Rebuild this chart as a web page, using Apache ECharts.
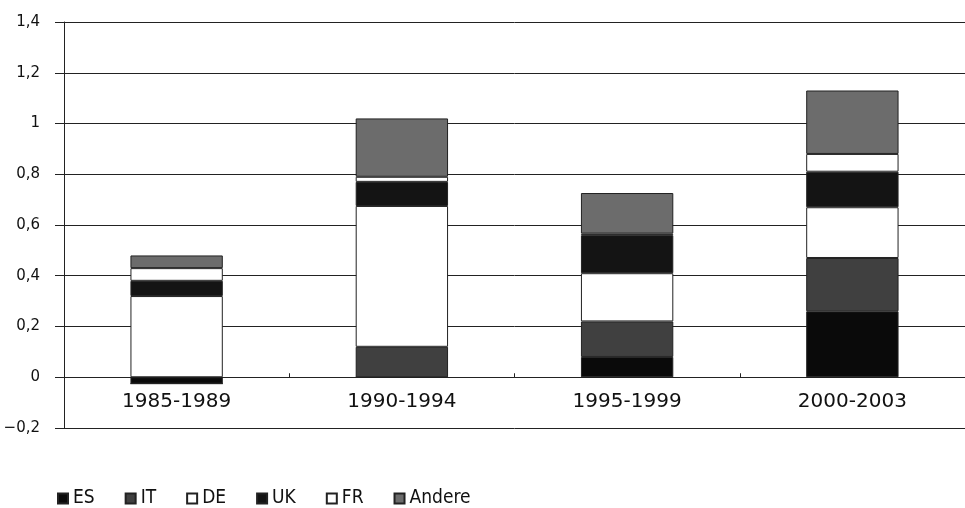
<!DOCTYPE html>
<html>
<head>
<meta charset="utf-8">
<script src="https://cdn.jsdelivr.net/npm/echarts@6/dist/echarts.min.js"></script>
<style>
  html, body { margin: 0; padding: 0; background: #fff; }
  #chart { width: 965px; height: 508px; }
</style>
</head>
<body>
<div id="chart"></div>
<script>
// Zeiträume
var categories = ['1985-1989', '1990-1994', '1995-1999', '2000-2003'];
// Anteile je Land (aus dem Bild geschätzt)
var es = [-0.025, 0, 0.08, 0.26];
var it = [0, 0.12, 0.14, 0.21];
var de = [0.32, 0.555, 0.19, 0.20];
var uk = [0.06, 0.095, 0.15, 0.14];
var fr = [0.05, 0.02, 0.006, 0.07];
var andere = [0.05, 0.23, 0.16, 0.25];
// Achsenbeschriftung y
var yTicks = ['\u22120,2', '0', '0,2', '0,4', '0,6', '0,8', '1', '1,2', '1,4'];

var myChart = echarts.init(document.getElementById('chart'));

var barBase = function (name, data, color) {
  return {
    name: name,
    type: 'bar',
    stack: 'total',
    barWidth: '41%',
    data: data,
    itemStyle: {
      color: color,
      borderColor: '#222',
      borderWidth: 1
    }
  };
};

var option = {
  animation: false,
  grid: {
    left: 64,
    right: 0,
    top: 22,
    bottom: 80
  },
  legend: {
    left: 52,
    top: 484,
    itemWidth: 10,
    itemHeight: 10,
    itemGap: 30,
    icon: 'rect',
    textStyle: {
      fontFamily: 'DejaVu Sans Condensed, Liberation Sans Narrow, sans-serif',
      fontSize: 19,
      color: '#111'
    },
    data: ['ES', 'IT', 'DE', 'UK', 'FR', 'Andere']
  },
  xAxis: {
    type: 'category',
    data: categories,
    axisLine: {
      onZero: true,
      lineStyle: { color: '#222', width: 1 }
    },
    axisTick: {
      show: true,
      length: 4,
      inside: true,
      lineStyle: { color: '#222' }
    },
    axisLabel: {
      // Beschriftung direkt unter der Nulllinie
      margin: -36,
      fontFamily: 'DejaVu Sans, sans-serif',
      fontSize: 20,
      color: '#111'
    }
  },
  yAxis: {
    type: 'value',
    min: -0.2,
    max: 1.4,
    interval: 0.2,
    axisLine: {
      show: true,
      lineStyle: { color: '#222', width: 1 }
    },
    axisTick: {
      show: true,
      length: 9,
      lineStyle: { color: '#222' }
    },
    axisLabel: {
      margin: 24,
      fontFamily: 'DejaVu Sans, sans-serif',
      fontSize: 15,
      color: '#111',
      formatter: function (value) {
        var i = Math.round((value + 0.2) / 0.2);
        return yTicks[i];
      }
    },
    splitLine: {
      show: true,
      lineStyle: { color: '#222', width: 1 }
    }
  },
  series: [
    barBase('ES', es, '#0a0a0a'),
    barBase('IT', it, '#404040'),
    barBase('DE', de, '#ffffff'),
    barBase('UK', uk, '#141414'),
    barBase('FR', fr, '#ffffff'),
    barBase('Andere', andere, '#6c6c6c')
  ]
};

myChart.setOption(option);
window.addEventListener('resize', function () {
  myChart.resize();
});
</script>
</body>
</html>
